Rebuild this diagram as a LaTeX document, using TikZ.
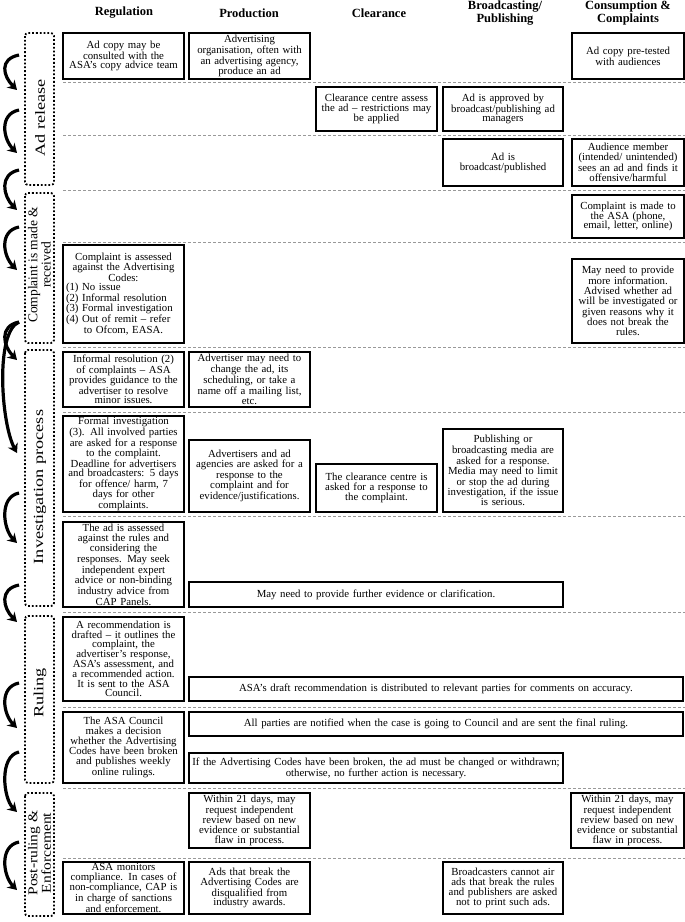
\documentclass[tikz,border=0pt]{standalone}
\usepackage{fontspec}
\setmainfont{Liberation Serif}
\usetikzlibrary{arrows.meta}
\newcommand\bx[6]{%
  \pgfmathsetmacro\bxw{#4-#2}%
  \pgfmathsetmacro\bxh{#5-#3}%
  \pgfmathsetmacro\bxt{#4-#2-6}%
  \node[box, text width=\bxt pt, minimum width=\bxw pt, minimum height=\bxh pt] (#1) at ({(#2+#4)/2},{(#3+#5)/2}) {#6};}
\newcommand\lft[1]{\makebox[\bxt pt][l]{#1}}
\begin{document}
\begin{tikzpicture}[x=1pt,y=-1pt,
  box/.style={draw=black, line width=2.3pt, inner xsep=3pt, inner ysep=1pt, align=center, font=\fontsize{10.8}{9.8}\selectfont},
  head/.style={font=\bfseries\fontsize{12.5}{11}\selectfont, align=center},
  phase/.style={draw=black, line width=1.8pt, dotted, rounded corners=3pt},
  phasetext/.style={rotate=90, font=\fontsize{14}{11}\selectfont, align=center, inner sep=0pt},
  phasetwo/.style={rotate=90, font=\fontsize{13.5}{10}\selectfont, align=center, inner sep=0pt},
  rowline/.style={draw=gray!80, line width=0.6pt, dash pattern=on 3pt off 2pt},
  flow/.style={line width=3.2pt, -{Stealth[length=9pt,width=11pt]}}
]
\useasboundingbox (0,0) rectangle (685,922);

% headers
\node[head] (hreg) at (124,13) {Regulation};
\node[head] (hprod) at (249,13) {Production};
\node[head] (hclr) at (379,13) {Clearance};
\node[head] (hbrd) at (505,13) {Broadcasting/\\Publishing};
\node[head] (hcon) at (628,13) {Consumption \&\\Complaints};

% row separators
\foreach \yy in {82,135,190,242,347,412,516,612,707,788,858}
  \draw[rowline] (63,\yy) -- (685,\yy);

% phase labels
\draw[phase] (25,33) rectangle (54,185);
\node[phasetext, xscale=1.3] (p1) at (40,118) {Ad release};
\draw[phase] (25,193) rectangle (54,343);
\node[phasetwo] (p2) at (39.5,265) {Complaint is made \&\\received};
\draw[phase] (25,350) rectangle (54,606);
\node[phasetext, xscale=1.3] (p3) at (40,487) {Investigation process};
\draw[phase] (25,616) rectangle (54,783);
\node[phasetext, xscale=1.3] (p4) at (40,693) {Ruling};
\draw[phase] (25,793) rectangle (54,916);
\node[phasetwo, xscale=1.15] (p5) at (39.5,853) {Post-ruling \&\\Enforcement};

% Row 1
\bx{r1reg}{63}{33}{184}{79}{Ad copy may be\\consulted with the\\ASA’s copy advice team}
\bx{r1prod}{189}{33}{310}{79}{Advertising\\organisation, often with\\an advertising agency,\\produce an ad}
\bx{r1con}{572}{33}{684}{79}{Ad copy pre-tested\\with audiences}
% Row 2
\bx{r2clr}{316}{87}{437}{131}{Clearance centre assess\\the ad – restrictions may\\be applied}
\bx{r2brd}{443}{87}{563}{131}{Ad is approved by\\broadcast/publishing ad\\managers}
% Row 3
\bx{r3brd}{443}{139}{563}{186}{Ad is\\broadcast/published}
\bx{r3con}{572}{139}{684}{186}{Audience member\\(intended/ unintended)\\sees an ad and finds it\\offensive/harmful}
% Row 4
\bx{r4con}{572}{195}{684}{238}{Complaint is made to\\the ASA (phone,\\email, letter, online)}
% Row 5
\bx{r5reg}{63}{245}{184}{343}{Complaint is assessed\\against the Advertising\\Codes:\\\lft{(1) No issue}\\\lft{(2) Informal resolution}\\\lft{(3) Formal investigation}\\\lft{(4) Out of remit – refer}\\to Ofcom, EASA.}
\bx{r5con}{572}{259}{684}{343}{May need to provide\\more information.\\Advised whether ad\\will be investigated or\\given reasons why it\\does not break the\\rules.}
% Row 6
\bx{r6reg}{63}{352}{184}{407}{Informal resolution (2)\\of complaints – ASA\\provides guidance to the\\advertiser to resolve\\minor issues.}
\bx{r6prod}{189}{352}{310}{407}{Advertiser may need to\\change the ad, its\\scheduling, or take a\\name off a mailing list,\\etc.}
% Row 7
\bx{r7reg}{63}{416}{184}{512}{Formal investigation\\(3). All involved parties\\are asked for a response\\to the complaint.\\Deadline for advertisers\\and broadcasters: 5 days\\for offence/ harm, 7\\days for other\\complaints.}
\bx{r7prod}{189}{440}{310}{512}{Advertisers and ad\\agencies are asked for a\\response to the\\complaint and for\\evidence/justifications.}
\bx{r7clr}{316}{464}{437}{512}{The clearance centre is\\asked for a response to\\the complaint.}
\bx{r7brd}{443}{429}{563}{512}{Publishing or\\broadcasting media are\\asked for a response.\\Media may need to limit\\or stop the ad during\\investigation, if the issue\\is serious.}
% Row 8
\bx{r8reg}{63}{522}{184}{607}{The ad is assessed\\against the rules and\\considering the\\responses. May seek\\independent expert\\advice or non-binding\\industry advice from\\CAP Panels.}
\bx{r8wide}{189}{582}{563}{607}{May need to provide further evidence or clarification.}
% Row 9
\bx{r9reg}{63}{617}{184}{701}{A recommendation is\\drafted – it outlines the\\complaint, the\\advertiser’s response,\\ASA’s assessment, and\\a recommended action.\\It is sent to the ASA\\Council.}
\bx{r9wide}{189}{677}{683}{701}{ASA’s draft recommendation is distributed to relevant parties for comments on accuracy.}
% Row 10
\bx{r10reg}{63}{712}{184}{783}{The ASA Council\\makes a decision\\whether the Advertising\\Codes have been broken\\and publishes weekly\\online rulings.}
\bx{r10wa}{189}{712}{683}{736}{All parties are notified when the case is going to Council and are sent the final ruling.}
\bx{r10wb}{189}{753}{563}{783}{If the Advertising Codes have been broken, the ad must be changed or withdrawn;\\otherwise, no further action is necessary.}
% Row 11
\bx{r11prod}{189}{793}{310}{848}{Within 21 days, may\\request independent\\review based on new\\evidence or substantial\\flaw in process.}
\bx{r11con}{571}{793}{684}{848}{Within 21 days, may\\request independent\\review based on new\\evidence or substantial\\flaw in process.}
% Row 12
\bx{r12reg}{63}{862}{184}{914}{ASA monitors\\compliance. In cases of\\non-compliance, CAP is\\in charge of sanctions\\and enforcement.}
\bx{r12prod}{189}{862}{310}{914}{Ads that break the\\Advertising Codes are\\disqualified from\\industry awards.}
\bx{r12brd}{443}{862}{563}{914}{Broadcasters cannot air\\ads that break the rules\\and publishers are asked\\not to print such ads.}

% flow arrows
\coordinate (a1s) at (19,55);  \coordinate (a1e) at (17,90);
\coordinate (a2s) at (19,110); \coordinate (a2e) at (17,153);
\coordinate (a3s) at (19,170); \coordinate (a3e) at (17,210);
\coordinate (a4s) at (19,227); \coordinate (a4e) at (17,270);
\coordinate (a5s) at (19,322); \coordinate (a5e) at (17,360);
\coordinate (a5f) at (17,453);
\coordinate (a6s) at (19,493); \coordinate (a6e) at (17,543);
\coordinate (a7s) at (19,585); \coordinate (a7e) at (17,622);
\coordinate (a8s) at (19,683); \coordinate (a8e) at (17,728);
\coordinate (a9s) at (19,752); \coordinate (a9e) at (17,812);
\coordinate (a10s) at (19,842); \coordinate (a10e) at (17,890);
\foreach \i in {1,2,3,4,5,6,7,8,9,10}
  \draw[flow] (a\i s) .. controls +(-20,4) and +(-14,-14) .. (a\i e);
\draw[flow] (a5s) .. controls +(-24,10) and +(-16,-30) .. (a5f);
\end{tikzpicture}
\end{document}
